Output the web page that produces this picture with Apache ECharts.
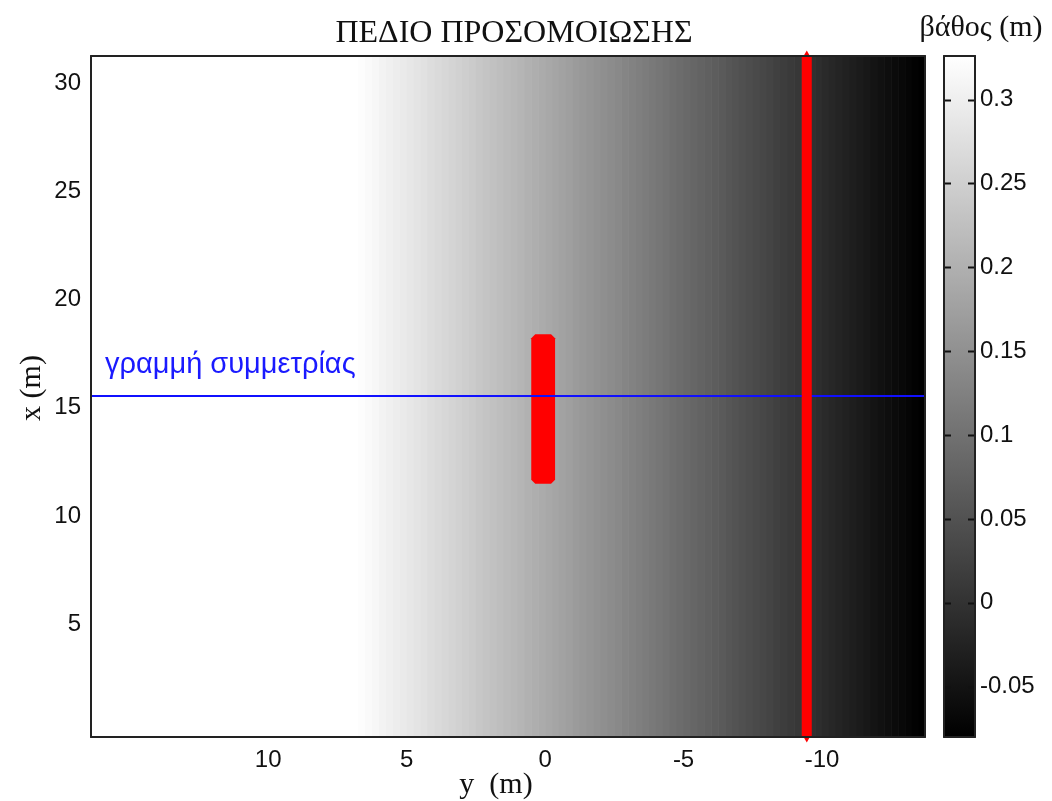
<!DOCTYPE html>
<html>
<head>
<meta charset="utf-8">
<script src="https://cdn.jsdelivr.net/npm/echarts@6/dist/echarts.min.js"></script>
<style>html,body{margin:0;padding:0;background:#fff;}#c{width:1052px;height:801px;}</style>
</head>
<body>
<div id="c"></div>
<script>
// ---- data ----
var yMin = -13.72, yMax = 16.4;        // horizontal axis: y (m), drawn reversed
var xMin = -0.2, xMax = 31.25;          // vertical axis: x (m)
var yTicks = [10, 5, 0, -5, -10];
var xTicks = [5, 10, 15, 20, 25, 30];
var cbMin = -0.08, cbMax = 0.326;
var cbTicks = [-0.05, 0, 0.05, 0.1, 0.15, 0.2, 0.25, 0.3];
// column centres (y, m) and depth values (m)
var yPos = [6.875, 6.625, 6.375, 6.125, 5.875, 5.625, 5.375, 5.125, 4.875, 4.625, 4.375, 4.125, 3.875, 3.625, 3.375, 3.125, 2.875, 2.625, 2.375, 2.125, 1.875, 1.625, 1.375, 1.125, 0.875, 0.625, 0.375, 0.125, -0.125, -0.375, -0.625, -0.875, -1.125, -1.375, -1.625, -1.875, -2.125, -2.375, -2.625, -2.875, -3.125, -3.375, -3.625, -3.875, -4.125, -4.375, -4.625, -4.875, -5.125, -5.375, -5.625, -5.875, -6.125, -6.375, -6.625, -6.875, -7.125, -7.375, -7.625, -7.875, -8.125, -8.375, -8.625, -8.875, -9.125, -9.375, -9.625, -9.875, -10.125, -10.375, -10.625, -10.875, -11.125, -11.375, -11.625, -11.875, -12.125, -12.375, -12.625, -12.875, -13.125, -13.375, -13.625];
var depth = [0.3275, 0.3225, 0.3175, 0.3125, 0.3075, 0.3025, 0.2975, 0.2925, 0.2875, 0.2825, 0.2775, 0.2725, 0.2675, 0.2625, 0.2575, 0.2525, 0.2475, 0.2425, 0.2375, 0.2325, 0.2275, 0.2225, 0.2175, 0.2125, 0.2075, 0.2025, 0.1975, 0.1925, 0.1875, 0.1825, 0.1775, 0.1725, 0.1675, 0.1625, 0.1575, 0.1525, 0.1475, 0.1425, 0.1375, 0.1325, 0.1275, 0.1225, 0.1175, 0.1125, 0.1075, 0.1025, 0.0975, 0.0925, 0.0875, 0.0825, 0.0775, 0.0725, 0.0675, 0.0625, 0.0575, 0.0525, 0.0475, 0.0425, 0.0375, 0.0325, 0.0275, 0.0225, 0.0175, 0.0125, 0.0075, 0.0025, -0.0025, -0.0075, -0.0125, -0.0175, -0.0225, -0.0275, -0.0325, -0.0375, -0.0425, -0.0475, -0.0525, -0.0575, -0.0625, -0.0675, -0.0725, -0.0775, -0.0825];
var blockY = [0.5, -0.36];      // structure extent in y (m)
var blockX = [11.5, 18.4];      // structure extent in x (m)
var redLineY = -9.45;           // red line position (y, m)
var symLineX = 15.55;           // symmetry line (x, m)

// ---- chart ----
var chart = echarts.init(document.getElementById('c'), null, {renderer: 'canvas'});
var colW = Math.abs(yPos[1] - yPos[0]);
var heatData = yPos.map(function (y, i) { return [y, depth[i]]; });
var AX = '#222';
var tickFont = {fontFamily: 'Liberation Sans', fontSize: 24, color: '#111'};

var option = {
  animation: false,
  backgroundColor: '#fff',
  grid: [
    {left: 91, right: 127, top: 56, bottom: 64},
    {left: 944, width: 31, top: 56, bottom: 64}
  ],
  visualMap: {
    type: 'continuous', show: false, seriesIndex: 0, dimension: 1,
    min: cbMin, max: cbMax, inRange: {color: ['#000000', '#ffffff']}
  },
  xAxis: [
    {gridIndex: 0, type: 'value', min: yMin, max: yMax, inverse: true, position: 'bottom', z: 10,
     axisLine: {show: true, onZero: false, lineStyle: {color: AX, width: 2}},
     axisTick: {show: false}, splitLine: {show: false},
     axisLabel: Object.assign({customValues: yTicks, margin: 11}, tickFont)},
    {gridIndex: 0, type: 'value', min: yMin, max: yMax, inverse: true, position: 'top', z: 10,
     axisLine: {show: true, onZero: false, lineStyle: {color: AX, width: 2}},
     axisTick: {show: false}, splitLine: {show: false}, axisLabel: {show: false}},
    {gridIndex: 1, type: 'value', min: 0, max: 1, position: 'bottom', z: 10,
     axisLine: {show: true, onZero: false, lineStyle: {color: AX, width: 2}},
     axisTick: {show: false}, splitLine: {show: false}, axisLabel: {show: false}},
    {gridIndex: 1, type: 'value', min: 0, max: 1, position: 'top', z: 10,
     axisLine: {show: true, onZero: false, lineStyle: {color: AX, width: 2}},
     axisTick: {show: false}, splitLine: {show: false}, axisLabel: {show: false}}
  ],
  yAxis: [
    {gridIndex: 0, type: 'value', min: xMin, max: xMax, position: 'left', z: 10,
     axisLine: {show: true, onZero: false, lineStyle: {color: AX, width: 2}},
     axisTick: {show: false}, splitLine: {show: false},
     axisLabel: Object.assign({customValues: xTicks, margin: 10}, tickFont)},
    {gridIndex: 0, type: 'value', min: xMin, max: xMax, position: 'right', z: 10,
     axisLine: {show: true, onZero: false, lineStyle: {color: AX, width: 2}},
     axisTick: {show: false}, splitLine: {show: false}, axisLabel: {show: false}},
    {gridIndex: 1, type: 'value', min: cbMin, max: cbMax, position: 'left', z: 10,
     axisLine: {show: true, onZero: false, lineStyle: {color: AX, width: 2}},
     axisTick: {show: false}, splitLine: {show: false}, axisLabel: {show: false}},
    {gridIndex: 1, type: 'value', min: cbMin, max: cbMax, position: 'right', z: 10,
     axisLine: {show: true, onZero: false, lineStyle: {color: AX, width: 2}},
     axisTick: {show: false}, splitLine: {show: false},
     axisLabel: Object.assign({customValues: cbTicks, margin: 5}, tickFont)}
  ],
  series: [
    { // depth field
      type: 'custom', xAxisIndex: 0, yAxisIndex: 0, data: heatData, clip: true, z: 1,
      renderItem: function (params, api) {
        var c = api.value(0);
        var p0 = api.coord([c + colW / 2, xMax]);
        var p1 = api.coord([c - colW / 2, xMin]);
        return {type: 'rect',
          shape: {x: Math.min(p0[0], p1[0]), y: p0[1], width: Math.abs(p1[0] - p0[0]) + 0.6, height: p1[1] - p0[1]},
          style: {fill: api.visual('color')}};
      }
    },
    { // structure block
      type: 'custom', xAxisIndex: 0, yAxisIndex: 0, z: 3,
      data: [[blockY[0], blockX[0], blockY[1], blockX[1]]],
      renderItem: function (params, api) {
        var a = api.coord([api.value(0), api.value(3)]);
        var b = api.coord([api.value(2), api.value(1)]);
        var l = Math.min(a[0], b[0]), r = Math.max(a[0], b[0]);
        var t = Math.min(a[1], b[1]), bo = Math.max(a[1], b[1]);
        var k = 4;
        return {type: 'polygon',
          shape: {points: [[l + k, t], [r - k, t], [r, t + k], [r, bo - k], [r - k, bo], [l + k, bo], [l, bo - k], [l, t + k]]},
          style: {fill: '#ff0000'}};
      }
    },
    { // symmetry line
      type: 'line', xAxisIndex: 0, yAxisIndex: 0, z: 4, symbol: 'none',
      data: [[yMax, symLineX], [yMin, symLineX]],
      lineStyle: {color: '#1010ff', width: 2}
    },
    { // red line
      type: 'line', xAxisIndex: 0, yAxisIndex: 0, z: 5, clip: false,
      symbol: 'triangle', symbolSize: [8, 7], showSymbol: true,
      itemStyle: {color: '#ff0000'},
      data: [{value: [redLineY, xMax], symbolRotate: 0, symbolOffset: [0, -2]},
             {value: [redLineY, xMin], symbolRotate: 180, symbolOffset: [0, 2]}],
      lineStyle: {color: '#ff0000', width: 10, cap: 'butt'}
    },
    { // colorbar
      type: 'custom', xAxisIndex: 2, yAxisIndex: 2, z: 1,
      data: [[0, cbMin, 1, cbMax]],
      renderItem: function (params, api) {
        var a = api.coord([api.value(0), api.value(3)]);
        var b = api.coord([api.value(2), api.value(1)]);
        return {type: 'rect',
          shape: {x: a[0], y: a[1], width: b[0] - a[0], height: b[1] - a[1]},
          style: {fill: new echarts.graphic.LinearGradient(0, 0, 0, 1, [
            {offset: 0, color: '#ffffff'}, {offset: 1, color: '#000000'}])}};
      }
    },
    { // colorbar tick marks (both inner sides)
      type: 'custom', xAxisIndex: 2, yAxisIndex: 2, z: 6, clip: false,
      data: cbTicks.map(function (v) { return [0.5, v]; }),
      renderItem: function (params, api) {
        var pl = api.coord([0, api.value(1)]);
        var pr = api.coord([1, api.value(1)]);
        var y = Math.round(pl[1]) + 0.5;
        return {type: 'group', children: [
          {type: 'line', shape: {x1: pl[0], y1: y, x2: pl[0] + 7, y2: y}, style: {stroke: '#111', lineWidth: 2}},
          {type: 'line', shape: {x1: pr[0] - 7, y1: y, x2: pr[0], y2: y}, style: {stroke: '#111', lineWidth: 2}}
        ]};
      }
    }
  ],
  graphic: [
    {type: 'text', x: 514, y: 34, style: {text: 'ΠΕΔΙΟ ΠΡΟΣΟΜΟΙΩΣΗΣ', fontFamily: 'Liberation Serif', fontSize: 32, fill: '#111', align: 'center', verticalAlign: 'middle'}},
    {type: 'text', x: 981, y: 28, style: {text: 'βάθος (m)', fontFamily: 'Liberation Serif', fontSize: 30, fill: '#111', align: 'center', verticalAlign: 'middle'}},
    {type: 'text', x: 32, y: 388, rotation: Math.PI / 2, style: {text: 'x (m)', fontFamily: 'Liberation Serif', fontSize: 30, fill: '#111', align: 'center', verticalAlign: 'middle'}},
    {type: 'text', x: 496, y: 785, style: {text: 'y  (m)', fontFamily: 'Liberation Serif', fontSize: 30, fill: '#111', align: 'center', verticalAlign: 'middle'}},
    {type: 'text', x: 105, y: 365, z: 20, style: {text: 'γραμμή συμμετρίας', fontFamily: 'Liberation Sans', fontSize: 29, fill: '#1a1aff', align: 'left', verticalAlign: 'middle'}}
  ]
};
chart.setOption(option);
</script>
</body>
</html>
